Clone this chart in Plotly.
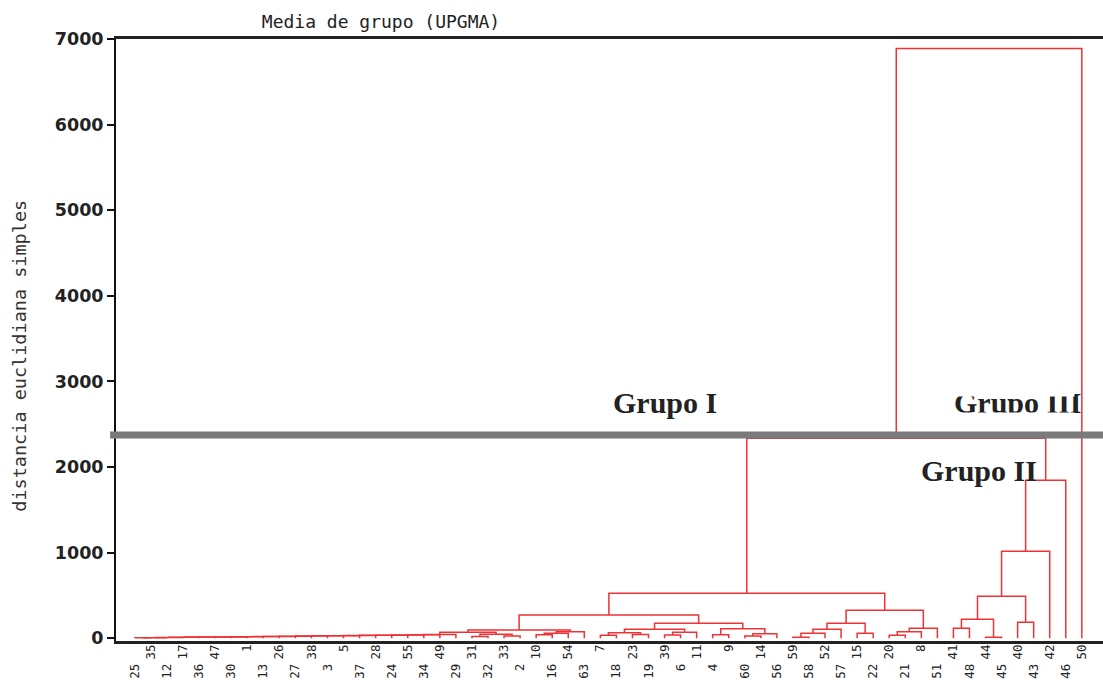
import plotly.graph_objects as go

# ---------------- data ----------------
leaf_labels = [25, 35, 12, 17, 36, 47, 30, 1, 13, 26, 27, 38, 3, 5, 37, 28, 24, 55, 34, 49,
               29, 31, 32, 33, 2, 10, 16, 54, 63, 7, 18, 23, 19, 39, 6, 11, 4, 9, 60, 14,
               56, 59, 58, 52, 57, 15, 22, 20, 21, 8, 51, 41, 48, 44, 45, 40, 43, 42, 46, 50]

node_names = ["c1", "c2", "c3", "c4", "c5", "c6", "c7", "c8", "c9", "c10",
              "c11", "c12", "c13", "c14", "c15", "c16", "c17", "c18", "c19", "c20",
              "b1", "b2", "b3", "g467", "r1", "r2", "r3", "g518",
              "l1", "l2", "l3", "l4", "l5", "g660", "m1", "m2", "m3", "g748b", "g703", "g610",
              "s1", "s2", "s3", "s4", "g843", "t1", "t2", "g920", "g881", "g748",
              "u1", "u2", "u3", "u4", "u5", "u6", "u7", "g2336", "top"]
left_child = ["25", "c1", "c2", "c3", "c4", "c5", "c6", "c7", "c8", "c9",
              "c10", "c11", "c12", "c13", "c14", "c15", "c16", "c17", "c18", "c19",
              "31", "33", "b1", "c20", "10", "r1", "r2", "g467",
              "7", "23", "l1", "39", "l4", "l3", "4", "60", "m2", "m1", "g660", "g518",
              "59", "s1", "s2", "15", "s3", "20", "t1", "t2", "g843", "g610",
              "41", "44", "u1", "40", "u3", "u5", "u6", "g748", "g2336"]
right_child = ["35", "12", "17", "36", "47", "30", "1", "13", "26", "27",
               "38", "3", "5", "37", "28", "24", "55", "34", "49", "29",
               "32", "2", "b2", "b3", "16", "54", "63", "r3",
               "18", "19", "l2", "6", "11", "l5", "9", "14", "56", "m3", "g748b", "g703",
               "58", "52", "57", "22", "s4", "21", "8", "51", "g920", "g881",
               "48", "45", "u2", "43", "u4", "42", "46", "u7", "50"]
node_height = [4, 6, 9, 11, 13, 15, 16, 18, 19, 21,
               23, 25, 27, 29, 31, 33, 35, 37, 40, 44,
               20, 25, 45, 70, 40, 58, 75, 95,
               35, 42, 62, 38, 68, 105, 40, 25, 52, 110, 175, 270,
               12, 58, 105, 58, 175, 35, 75, 117, 327, 526,
               117, 10, 222, 187, 490, 1016, 1846, 2336, 6890]

y_ticks = [0, 1000, 2000, 3000, 4000, 5000, 6000, 7000]
cut_height = 2375

# ---------------- dendrogram links ----------------
pos = {str(lab): (i, 0.0) for i, lab in enumerate(leaf_labels)}
xs, ys = [], []
for name, a, b, h in zip(node_names, left_child, right_child, node_height):
    xa, ha = pos[a]
    xb, hb = pos[b]
    xs += [xa, xa, xb, xb, None]
    ys += [ha, h, h, hb, None]
    pos[name] = ((xa + xb) / 2.0, h)

n = len(leaf_labels)
xr = [-1.18, 60.32]

fig = go.Figure()
fig.add_trace(go.Scatter(x=xs, y=ys, mode="lines",
                         line=dict(color="#ef3236", width=1.5),
                         hoverinfo="skip", showlegend=False))
fig.add_trace(go.Scatter(x=[0, n - 1], y=[0, 0], mode="markers",
                         marker=dict(opacity=0), xaxis="x2",
                         hoverinfo="skip", showlegend=False))

even_idx = list(range(0, n, 2))
odd_idx = list(range(1, n, 2))
lab_font = dict(family="DejaVu Sans Mono", size=12.5, color="#222")

fig.update_layout(
    width=1103, height=680,
    margin=dict(l=116, r=0, t=39, b=39, autoexpand=False),
    paper_bgcolor="white", plot_bgcolor="white",
    title=dict(text="Media de grupo (UPGMA)", x=0.2685, xref="paper", xanchor="center",
               y=1 - 22 / 680, yanchor="middle",
               font=dict(family="DejaVu Sans Mono", size=18, color="#222")),
    xaxis=dict(range=xr, tickmode="array", tickvals=even_idx,
               ticktext=[str(leaf_labels[i]) for i in even_idx],
               tickangle=-90, ticks="", ticklabelstandoff=15, automargin=False,
               tickfont=lab_font, showgrid=False, zeroline=False,
               showline=True, linecolor="#222", linewidth=2.5, mirror=True),
    xaxis2=dict(range=xr, overlaying="x", anchor="y", side="bottom",
                tickmode="array", tickvals=odd_idx,
                ticktext=[str(leaf_labels[i]) for i in odd_idx],
                tickangle=-90, ticks="", ticklabelstandoff=0, automargin=False,
                tickfont=lab_font, showgrid=False, zeroline=False, showline=False),
    yaxis=dict(range=[-33, 7000], tickmode="array", tickvals=y_ticks,
               ticks="outside", ticklen=7, tickwidth=1.5, tickcolor="#111",
               tickfont=dict(family="DejaVu Sans", size=17.5, color="#222", weight="bold"),
               showgrid=False, zeroline=False, automargin=False,
               showline=True, linecolor="#111", linewidth=2),
    shapes=[dict(type="line", xref="paper", yref="y", x0=-0.006, x1=1.0,
                 y0=cut_height, y1=cut_height, layer="above",
                 line=dict(color="#7a7a7a", width=7))],
)

# y-axis title (placed slightly below the plot centre, as in the original)
fig.add_annotation(x=(20 - 116) / 987, y=3300, xref="paper", yref="y",
                   text="distancia euclidiana simples", textangle=-90,
                   showarrow=False, xanchor="center", yanchor="middle",
                   font=dict(family="DejaVu Sans Mono", size=18.5, color="#333"))

grp_font = dict(family="Liberation Serif", size=30, color="#222", weight="bold")
fig.add_annotation(x=33.0, y=2757, xref="x", yref="y", text="Grupo I",
                   showarrow=False, font=grp_font)
fig.add_annotation(x=52.6, y=1963, xref="x", yref="y", text="Grupo II",
                   showarrow=False, font=grp_font)
fig.add_annotation(x=55.0, y=2757, xref="x", yref="y", text="Grupo III",
                   showarrow=False, font=grp_font)
# white strips clipping "Grupo III" top and bottom, as in the scanned figure
fig.add_annotation(x=54.6, y=2921, xref="x", yref="y", text=" ",
                   showarrow=False, width=126, height=16, bgcolor="white", borderpad=0)
fig.add_annotation(x=54.6, y=2558, xref="x", yref="y", text=" ",
                   showarrow=False, width=126, height=12, bgcolor="white", borderpad=0)

fig.write_html("out.html")
